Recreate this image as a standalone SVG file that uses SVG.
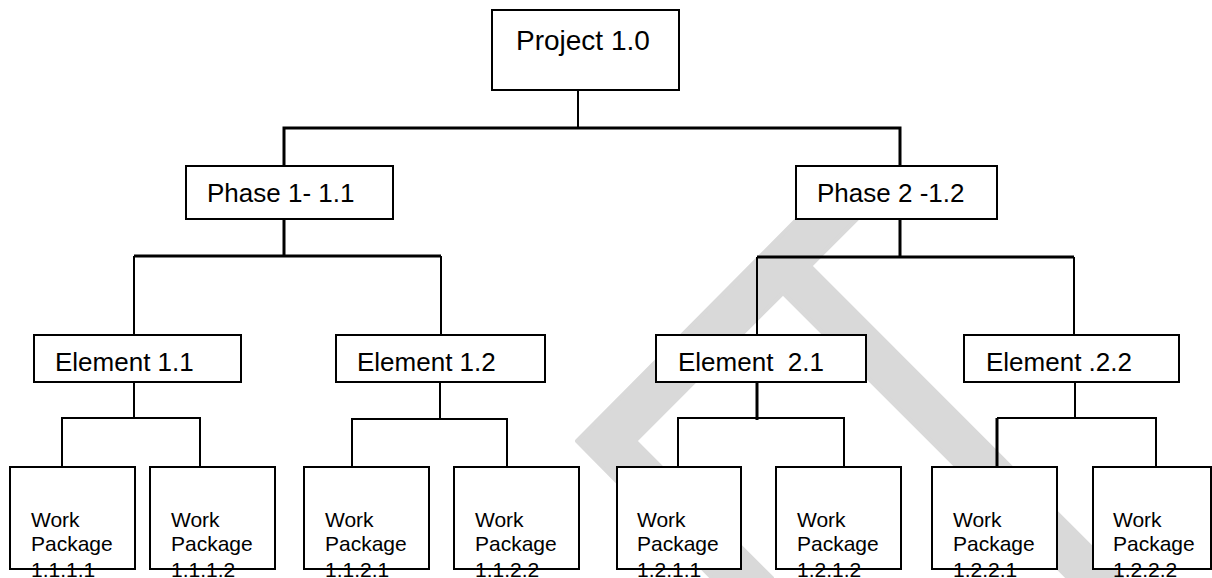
<svg xmlns="http://www.w3.org/2000/svg" width="1212" height="578" viewBox="0 0 1212 578">
<style>
.box{fill:#fff;stroke:#000;stroke-width:2}
.t1{font-family:"Liberation Sans",Arial,sans-serif;font-size:28px;fill:#000}
.t2{font-family:"Liberation Sans",Arial,sans-serif;font-size:26px;fill:#000}
.t3{font-family:"Liberation Sans",Arial,sans-serif;font-size:21px;fill:#000}
.c{stroke:#000;stroke-width:2;fill:none}
.ct{stroke:#000;stroke-width:3;fill:none}
.wm{fill:#d9d9d9;stroke:#d9d9d9;stroke-width:4;stroke-linejoin:round}
</style>
<rect width="1212" height="578" fill="#fff"/>
<g id="watermark">
<polygon class="wm" points="830,186 890,186 810,266 1122,578 1068,578 783,293 635,441 772,578 712,578 577,441"/>
</g>
<g id="connectors">
<path class="c" d="M578,90V128"/>
<path class="ct" d="M284,166V128H900V166"/>
<path class="ct" d="M284,219V256M134,256H441"/>
<path class="c" d="M134,256V335M441,256V335"/>
<path class="ct" d="M900,219V257M757,257H1074"/>
<path class="c" d="M757,257V335M1074,257V335"/>
<path class="c" d="M134,382V418M62,467V418H200V467"/>
<path class="c" d="M440,382V419M352,467V419H507V467"/>
<path class="ct" d="M757,382V420"/>
<path class="c" d="M678,467V418H844V467"/>
<path class="c" d="M1075,382V418M1156,467V418H997"/>
<path class="ct" d="M997,418V467"/>
</g>
<g id="project"><rect class="box" x="492" y="10" width="187" height="80"/><text class="t1" x="516" y="50">Project 1.0</text></g>
<g id="phase1"><rect class="box" x="186" y="166" width="207" height="53"/><text class="t2" x="207" y="202">Phase 1- 1.1</text></g>
<g id="phase2"><rect class="box" x="796" y="166" width="201" height="53"/><text class="t2" x="817" y="202">Phase 2 -1.2</text></g>
<g id="el11"><rect class="box" x="34" y="335" width="207" height="47"/><text class="t2" x="55" y="371">Element 1.1</text></g>
<g id="el12"><rect class="box" x="336" y="335" width="209" height="47"/><text class="t2" x="357" y="371">Element 1.2</text></g>
<g id="el21"><rect class="box" x="656" y="335" width="210" height="47"/><text class="t2" x="678" y="371" xml:space="preserve">Element  2.1</text></g>
<g id="el22"><rect class="box" x="964" y="335" width="215" height="47"/><text class="t2" x="986" y="371">Element .2.2</text></g>
<g id="wp1111"><rect class="box" x="10" y="467" width="125" height="102"/><text class="t3" x="31" y="527">Work</text><text class="t3" x="31" y="551">Package</text><text class="t3" x="31" y="577">1.1.1.1</text></g>
<g id="wp1112"><rect class="box" x="150" y="467" width="125" height="102"/><text class="t3" x="171" y="527">Work</text><text class="t3" x="171" y="551">Package</text><text class="t3" x="171" y="577">1.1.1.2</text></g>
<g id="wp1121"><rect class="box" x="304" y="467" width="125" height="102"/><text class="t3" x="325" y="527">Work</text><text class="t3" x="325" y="551">Package</text><text class="t3" x="325" y="577">1.1.2.1</text></g>
<g id="wp1122"><rect class="box" x="454" y="467" width="125" height="102"/><text class="t3" x="475" y="527">Work</text><text class="t3" x="475" y="551">Package</text><text class="t3" x="475" y="577">1.1.2.2</text></g>
<g id="wp1211"><rect class="box" x="617" y="467" width="124" height="102"/><text class="t3" x="637" y="527">Work</text><text class="t3" x="637" y="551">Package</text><text class="t3" x="637" y="577">1.2.1.1</text></g>
<g id="wp1212"><rect class="box" x="776" y="467" width="125" height="102"/><text class="t3" x="797" y="527">Work</text><text class="t3" x="797" y="551">Package</text><text class="t3" x="797" y="577">1.2.1.2</text></g>
<g id="wp1221"><rect class="box" x="932" y="467" width="125" height="102"/><text class="t3" x="953" y="527">Work</text><text class="t3" x="953" y="551">Package</text><text class="t3" x="953" y="577">1.2.2.1</text></g>
<g id="wp1222"><rect class="box" x="1093" y="467" width="118" height="102"/><text class="t3" x="1113" y="527">Work</text><text class="t3" x="1113" y="551">Package</text><text class="t3" x="1113" y="577">1.2.2.2</text></g>
</svg>
